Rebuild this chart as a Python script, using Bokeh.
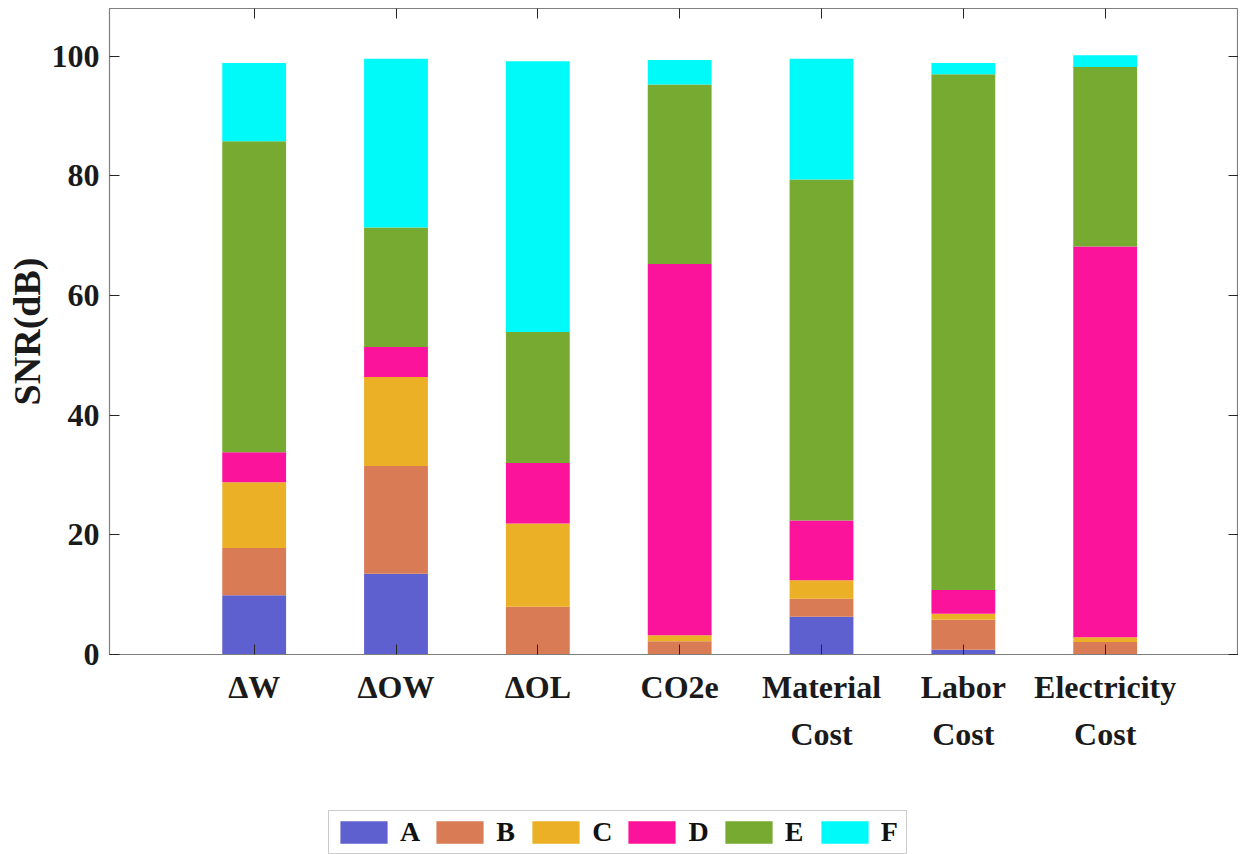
from bokeh.plotting import figure
from bokeh.layouts import column
from bokeh.models import Range1d, FixedTicker, LinearAxis, Legend, LegendItem, ColumnDataSource
from bokeh.embed import file_html
from bokeh.resources import INLINE

categories = ["ΔW", "ΔOW", "ΔOL", "CO2e", "Material\nCost", "Labor\nCost", "Electricity\nCost"]
series_names = ["A", "B", "C", "D", "E", "F"]
A = [9.9, 13.5, 0.0, 0.0, 6.3, 0.8, 0.0]
B = [7.9, 18.0, 8.0, 2.2, 3.0, 5.0, 2.1]
C = [11.0, 14.9, 13.9, 1.0, 3.1, 1.0, 0.8]
D = [5.0, 5.0, 10.1, 62.1, 10.0, 4.0, 65.3]
E = [52.0, 20.0, 21.9, 30.0, 57.0, 86.2, 30.0]
F = [13.1, 28.2, 45.3, 4.1, 20.2, 1.9, 2.0]
y_ticks = [0, 20, 40, 60, 80, 100]
colors = ["#5F60CF", "#D97C56", "#EBB026", "#FC139B", "#77AA30", "#00FAFA"]

FONT = "Liberation Serif"
xs = list(range(1, len(categories) + 1))
src = ColumnDataSource(dict(x=xs, A=A, B=B, C=C, D=D, E=E, F=F))

W = 1238
p = figure(width=W, height=800, x_range=Range1d(-0.02, 7.94), y_range=Range1d(0, 108),
           output_backend="svg", toolbar_location=None,
           min_border_left=109, min_border_right=0, min_border_top=8, min_border_bottom=146)
p.xgrid.visible = False
p.ygrid.visible = False
p.outline_line_color = "#7f7f7f"
p.outline_line_width = 1.2

renderers = p.vbar_stack(series_names, x="x", width=0.45, source=src, color=colors, line_color=None)

def style(ax):
    ax.major_tick_in = 10
    ax.major_tick_out = 0
    ax.minor_tick_line_color = None
    ax.major_tick_line_color = "#262626"
    ax.axis_line_color = "#7f7f7f"
    ax.major_label_text_font = FONT
    ax.major_label_text_font_style = "bold"
    ax.major_label_text_font_size = "32px"
    ax.major_label_text_color = "#1a1a1a"

xa = p.xaxis[0]
xa.ticker = FixedTicker(ticks=xs)
xa.major_label_overrides = {x: c for x, c in zip(xs, categories)}
style(xa)
xa.major_label_standoff = 14
xa.major_label_text_line_height = 1.33

ya = p.yaxis[0]
ya.ticker = FixedTicker(ticks=y_ticks)
style(ya)
ya.major_label_standoff = 10
ya.axis_label = "SNR(dB)"
ya.axis_label_text_font = FONT
ya.axis_label_text_font_style = "bold"
ya.axis_label_text_font_size = "38px"
ya.axis_label_text_color = "#1a1a1a"
ya.axis_label_standoff = 1

top = LinearAxis(ticker=FixedTicker(ticks=xs), major_label_overrides={x: "" for x in xs})
style(top)
top.major_label_standoff = 0
top.major_label_text_font_size = "0px"
top.axis_line_color = None
p.add_layout(top, "above")

right = LinearAxis(ticker=FixedTicker(ticks=y_ticks), major_label_overrides={t: "" for t in y_ticks})
style(right)
right.major_label_standoff = 0
right.major_label_text_font_size = "0px"
right.axis_line_color = None
p.add_layout(right, "right")

# legend strip below the chart (swatch renderers have zero height, so nothing is drawn)
pl = figure(width=W, height=54, x_range=Range1d(0, 1), y_range=Range1d(0, 1),
            output_backend="svg", toolbar_location=None,
            x_axis_location=None, y_axis_location=None,
            min_border_left=0, min_border_right=0, min_border_top=0, min_border_bottom=0)
pl.xgrid.visible = False
pl.ygrid.visible = False
pl.outline_line_color = None
swatches = [pl.vbar(x=[0.5], top=[0], width=0.1, color=c, line_color=None) for c in colors]
items = [LegendItem(label=n, renderers=[r]) for n, r in zip(series_names, swatches)]
legend = Legend(items=items, orientation="horizontal", location=(219, 0),
                glyph_width=59, glyph_height=28, label_standoff=7, spacing=10,
                padding=5, margin=0,
                label_text_font=FONT, label_text_font_style="bold", label_text_font_size="28px",
                label_text_color="#111111",
                border_line_color="#999999", border_line_width=1.2,
                background_fill_color="white", background_fill_alpha=1)
pl.add_layout(legend, "center")

layout = column(p, pl, spacing=0)
open("out.html", "w").write(file_html(layout, INLINE))
